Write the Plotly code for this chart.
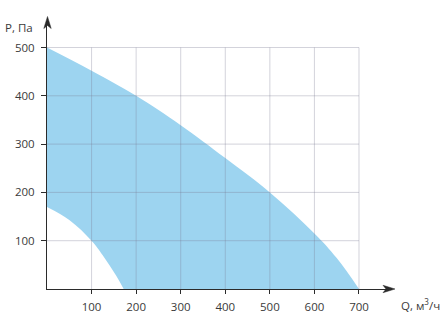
import plotly.graph_objects as go

# Data
q_upper = [0, 100, 200, 300, 400, 500, 600, 650, 700]
p_upper = [500, 452, 400, 339, 271, 200, 115, 64, 0]

q_lower = [0, 50, 100, 125, 155, 172]
p_lower = [170, 143, 100, 70, 28, 0]

x_ticks = [100, 200, 300, 400, 500, 600, 700]
y_ticks = [100, 200, 300, 400, 500]

x_label = "Q, м<sup>3</sup>/ч"
y_label = "P, Па"

# layout geometry (pixels)
WIDTH, HEIGHT = 445, 322
L, R, T, B = 47, 57, 24, 33
PW, PH = WIDTH - L - R, HEIGHT - T - B
PX_PER_X = 0.4457
PX_PER_Y = 0.483
X_MAX = PW / PX_PER_X
Y_MAX = PH / PX_PER_Y


def paper(x, y):
    return (x - L) / PW, (HEIGHT - B - y) / PH


FONT = "Open Sans, Noto Sans, sans-serif"
TXT = "#3a3a3a"
AXIS = "#2b2b2b"
BLUE = "#9dd4f0"
GRID = "rgba(120,120,145,0.33)"
FS = 11.5

fig = go.Figure()
fig.add_trace(go.Scatter(x=q_upper, y=p_upper, mode="lines", line=dict(width=0, shape="spline", smoothing=1.1),
                         fill="tozeroy", fillcolor=BLUE, hoverinfo="skip", showlegend=False))
fig.add_trace(go.Scatter(x=q_lower, y=p_lower, mode="lines", line=dict(width=0, shape="spline", smoothing=1.1),
                         fill="tozeroy", fillcolor="white", hoverinfo="skip", showlegend=False))

shapes = []
top = max(y_ticks)
right = max(x_ticks)
for xv in x_ticks:
    shapes.append(dict(type="line", xref="x", yref="y", x0=xv, x1=xv, y0=0, y1=top,
                       line=dict(color=GRID, width=1), layer="above"))
for yv in y_ticks:
    shapes.append(dict(type="line", xref="x", yref="y", x0=0, x1=right, y0=yv, y1=yv,
                       line=dict(color=GRID, width=1), layer="above"))


def arrow(points):
    pts = [paper(*p) for p in points]
    path = "M " + " L ".join(f"{a:.5f},{b:.5f}" for a, b in pts) + " Z"
    return dict(type="path", xref="paper", yref="paper", path=path,
                fillcolor=AXIS, line=dict(color=AXIS, width=0.5), layer="above")


shapes.append(arrow([(395, 289), (383, 285.3), (386, 289), (383, 292.7)]))
shapes.append(arrow([(47.5, 16.5), (43.8, 28.5), (47.5, 25.5), (51.2, 28.5)]))

ax_y_label = paper(35, 27)
ax_x_label = paper(399, 304)
annotations = [
    dict(text=y_label, xref="paper", yref="paper", x=ax_y_label[0], y=ax_y_label[1],
         xanchor="right", yanchor="middle", showarrow=False, font=dict(size=FS, color=TXT, family=FONT)),
    dict(text=x_label, xref="paper", yref="paper", x=ax_x_label[0], y=ax_x_label[1],
         xanchor="left", yanchor="middle", showarrow=False, font=dict(size=FS, color=TXT, family=FONT)),
]

fig.update_layout(
    width=WIDTH, height=HEIGHT,
    margin=dict(l=L, r=R, t=T, b=B, pad=0, autoexpand=False),
    paper_bgcolor="white", plot_bgcolor="white",
    shapes=shapes, annotations=annotations, showlegend=False,
    font=dict(family=FONT, size=FS, color=TXT),
    xaxis=dict(range=[0, X_MAX], tickvals=x_ticks, showgrid=False, zeroline=False,
               showline=True, linecolor=AXIS, linewidth=1, automargin=False,
               ticks="outside", ticklen=4, tickcolor=AXIS, tickwidth=1,
               ticklabelstandoff=3, fixedrange=True),
    yaxis=dict(range=[0, Y_MAX], tickvals=y_ticks, showgrid=False, zeroline=False,
               showline=True, linecolor=AXIS, linewidth=1, automargin=False,
               ticks="outside", ticklen=5, tickcolor=AXIS, tickwidth=1,
               ticklabelstandoff=4, fixedrange=True),
)

fig.write_html("out.html")
